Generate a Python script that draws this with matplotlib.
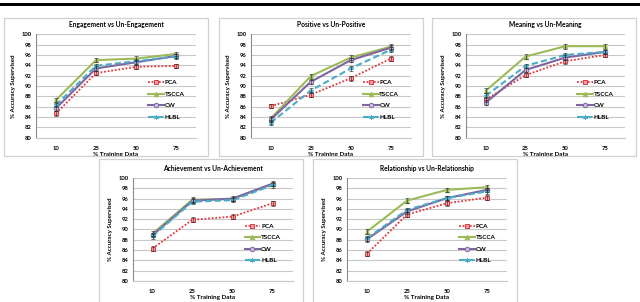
import matplotlib
matplotlib.use("Agg")
import matplotlib.pyplot as plt
from matplotlib.patches import Rectangle

plt.rcParams['font.family'] = ['Lato', 'DejaVu Sans']
plt.rcParams['font.weight'] = 'bold'

W, H = 640, 302

categories = ["10", "25", "50", "75"]
series_names = ["PCA", "TSCCA", "CW", "HLBL"]
y_ticks = [80, 82, 84, 86, 88, 90, 92, 94, 96, 98, 100]

titles = [
    "Engagement vs Un-Engagement",
    "Positive vs Un-Positive",
    "Meaning vs Un-Meaning",
    "Achievement vs Un-Achievement",
    "Relationship vs Un-Relationship",
]

engagement_pca = [84.7, 92.5, 93.7, 93.9]
engagement_tscca = [87.3, 95.0, 95.3, 96.2]
engagement_cw = [85.7, 93.4, 94.6, 95.8]
engagement_hlbl = [86.3, 93.9, 94.8, 95.7]

positive_pca = [86.1, 88.3, 91.5, 95.3]
positive_tscca = [83.7, 91.9, 95.5, 97.6]
positive_cw = [83.5, 90.8, 95.0, 97.4]
positive_hlbl = [82.9, 89.1, 93.4, 97.0]

meaning_pca = [87.4, 92.1, 94.8, 96.0]
meaning_tscca = [89.1, 95.7, 97.7, 97.7]
meaning_cw = [86.8, 93.1, 95.5, 96.6]
meaning_hlbl = [88.1, 93.9, 96.0, 96.6]

achievement_pca = [86.3, 91.9, 92.5, 95.1]
achievement_tscca = [89.2, 95.8, 95.9, 98.8]
achievement_cw = [88.9, 95.6, 96.0, 98.9]
achievement_hlbl = [88.7, 95.4, 95.7, 98.6]

relationship_pca = [85.3, 92.9, 95.1, 96.2]
relationship_tscca = [89.6, 95.6, 97.7, 98.2]
relationship_cw = [88.1, 93.5, 96.1, 97.7]
relationship_hlbl = [88.3, 93.8, 96.1, 97.4]

error_half = [0.45, 0.45, 0.45, 0.45]

panels_data = [
    [engagement_pca, engagement_tscca, engagement_cw, engagement_hlbl],
    [positive_pca, positive_tscca, positive_cw, positive_hlbl],
    [meaning_pca, meaning_tscca, meaning_cw, meaning_hlbl],
    [achievement_pca, achievement_tscca, achievement_cw, achievement_hlbl],
    [relationship_pca, relationship_tscca, relationship_cw, relationship_hlbl],
]

styles = [
    dict(color="#e0393e", ls=(0, (1, 1)), lw=1.3, marker="s", mfc="#f0a0a0", mec="#e0393e", ms=3.2),
    dict(color="#9bbb59", ls="-", lw=1.5, marker="^", mfc="#9bbb59", mec="#9bbb59", ms=3.2),
    dict(color="#8064a2", ls="-", lw=1.5, marker="o", mfc="#cbbde0", mec="#8064a2", ms=3.2),
    dict(color="#4bacc6", ls=(0, (3, 1.5)), lw=1.5, marker=(6, 2, 0), mfc="#4bacc6", mec="#4bacc6", ms=3.6),
]

# axes (x0, x1, ytop, ybot) in pixels and boxes
axes_px = [
    (36, 196, 34.3, 137.7),
    (250.7, 410.7, 34.3, 137.7),
    (466, 625, 34.3, 137.7),
    (132.5, 292.5, 178, 281),
    (347, 507, 178, 281),
]
boxes_px = [
    (4, 208, 17.7, 156),
    (218.7, 422.5, 17.7, 156),
    (432, 636, 17.7, 156),
    (99, 303, 159, 304),
    (313, 517, 159, 304),
]

fig = plt.figure(figsize=(W / 100, H / 100), dpi=100)

# black rule at top
fig.patches.append(Rectangle((0, 1 - 5.6 / H), 1, 2.2 / H, transform=fig.transFigure,
                             facecolor="black", edgecolor="none"))

for (bx0, bx1, by0, by1) in boxes_px:
    fig.patches.append(Rectangle((bx0 / W, 1 - by1 / H), (bx1 - bx0) / W, (by1 - by0) / H,
                                 transform=fig.transFigure, facecolor="none",
                                 edgecolor="#d0d0d0", lw=0.9))

xpos = list(range(len(categories)))

for i, (title, data) in enumerate(zip(titles, panels_data)):
    x0, x1, yt, yb = axes_px[i]
    ax = fig.add_axes([x0 / W, 1 - yb / H, (x1 - x0) / W, (yb - yt) / H])
    ax.set_facecolor("none")
    for name, vals, st in zip(series_names, data, styles):
        ax.plot(xpos, vals, color=st["color"], ls=st["ls"], lw=st["lw"],
                marker=st["marker"], mfc=st["mfc"], mec=st["mec"], ms=st["ms"], mew=0.7,
                label=name, zorder=3)
        ax.errorbar(xpos, vals, yerr=error_half, fmt="none", ecolor="#303030",
                    elinewidth=0.45, capsize=1.1, capthick=0.45, zorder=4)
    ax.set_xlim(-0.5, 3.5)
    ax.set_ylim(80, 100)
    ax.set_yticks(y_ticks)
    ax.set_xticks(xpos)
    ax.set_xticklabels(categories)
    ax.grid(axis="y", color="#c8c8c8", lw=0.8)
    ax.set_axisbelow(True)
    for s in ["top", "right"]:
        ax.spines[s].set_visible(False)
    ax.spines["left"].set_color("#8c8c8c")
    ax.spines["bottom"].set_color("#c8c8c8")
    ax.spines["left"].set_linewidth(0.8)
    ax.spines["bottom"].set_linewidth(0.8)
    ax.tick_params(axis="both", length=0, labelsize=4.2, pad=3)
    ax.tick_params(axis="x", pad=6)
    for lab in ax.get_xticklabels() + ax.get_yticklabels():
        lab.set_fontweight("bold")
    ax.set_title(title, fontsize=4.8, fontweight="bold", pad=5)
    ax.set_ylabel("% Accuracy Supervised", fontsize=4.4, fontweight="bold", labelpad=4)
    ax.set_xlabel("% Training Data", fontsize=4.6, fontweight="bold", labelpad=0.5)
    handles, labels = ax.get_legend_handles_labels()
    leg = ax.legend(handles, labels, loc="upper left", bbox_to_anchor=(0.70, 0.56),
                    frameon=False, fontsize=4.6, handlelength=2.5, handletextpad=0.1,
                    labelspacing=0.95, borderpad=0, borderaxespad=0)
    for t in leg.get_texts():
        t.set_fontweight("bold")

fig.savefig("out.png", dpi=100)
